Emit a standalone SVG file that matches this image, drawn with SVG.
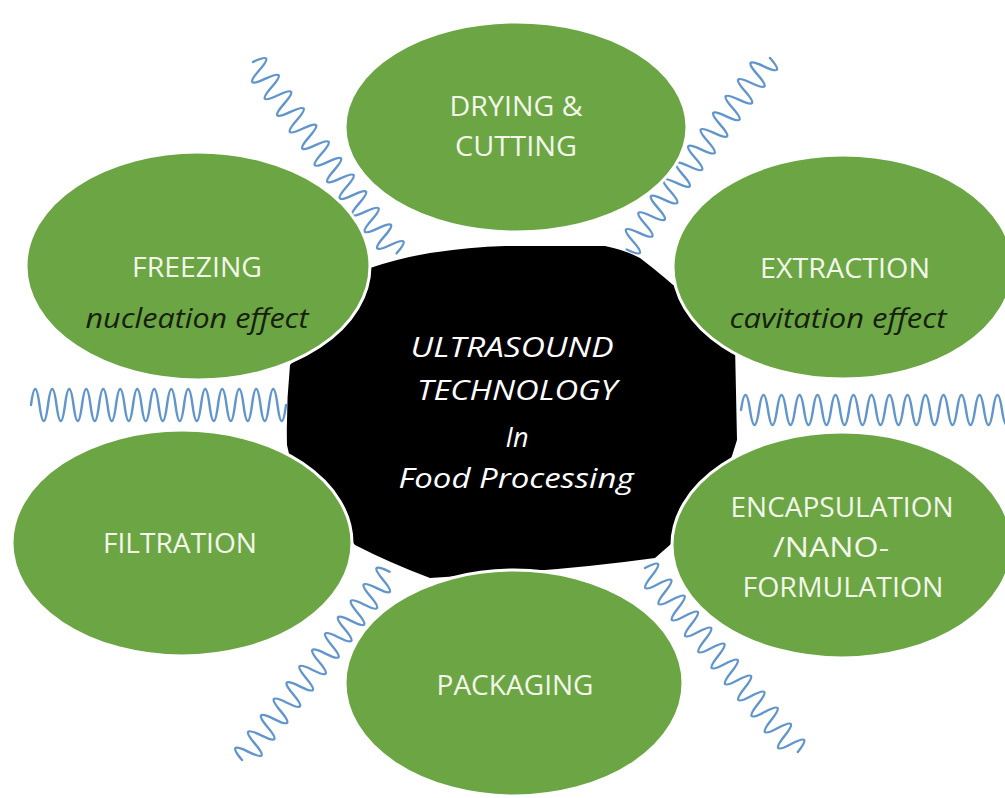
<svg xmlns="http://www.w3.org/2000/svg" width="1005" height="798" viewBox="0 0 1005 798">
<style>
.wave{fill:none;stroke:#6195cd;stroke-width:2.4;stroke-linecap:round;stroke-linejoin:round}
.node{fill:#6ca544;stroke:#ffffff;stroke-width:3}
.lbl{font-family:"Open Sans","Liberation Sans",sans-serif;font-size:28px;fill:#f2f7ea;text-anchor:middle}
.sub{font-family:"Open Sans","Liberation Sans",sans-serif;font-size:28px;font-style:italic;fill:#15200d;text-anchor:middle}
.ctr{font-family:"Open Sans","Liberation Sans",sans-serif;font-size:27px;font-style:italic;fill:#ffffff;text-anchor:middle}
</style>
<defs>
<path id="dw" d="M0 0 q5.2 -25 10.4 0 t10.4 0 t10.4 0 t10.4 0 t10.4 0 t10.4 0 t10.4 0 t10.4 0 t10.4 0 t10.4 0 t10.4 0 t10.4 0 t10.4 0 t10.4 0 t10.4 0 t10.4 0 t10.4 0 t10.4 0 t10.4 0 t10.4 0 t10.4 0 t10.4 0 t10.4 0"/>
</defs>
<rect width="1005" height="798" fill="#ffffff"/>
<g id="connectors">
<use href="#dw" class="wave" transform="translate(253,62) rotate(53.1)"/>
<use href="#dw" class="wave" transform="translate(770,58) rotate(126.8)"/>
<use href="#dw" class="wave" transform="translate(242,760) rotate(-51.9)"/>
<use href="#dw" class="wave" transform="translate(645,568) rotate(50.3)"/>
<path class="wave" d="M31 405 q4.25 -32 8.5 0 t8.5 0 t8.5 0 t8.5 0 t8.5 0 t8.5 0 t8.5 0 t8.5 0 t8.5 0 t8.5 0 t8.5 0 t8.5 0 t8.5 0 t8.5 0 t8.5 0 t8.5 0 t8.5 0 t8.5 0 t8.5 0 t8.5 0 t8.5 0 t8.5 0 t8.5 0 t8.5 0 t8.5 0 t8.5 0 t8.5 0 t8.5 0 t8.5 0 t8.5 0"/>
<path class="wave" d="M741 410 q4.5 -30 9 0 t9 0 t9 0 t9 0 t9 0 t9 0 t9 0 t9 0 t9 0 t9 0 t9 0 t9 0 t9 0 t9 0 t9 0 t9 0 t9 0 t9 0 t9 0 t9 0 t9 0 t9 0 t9 0 t9 0 t9 0 t9 0 t9 0 t9 0 t9 0 t9 0"/>
</g>
<g id="center">
<path d="M370 268 Q400 258 430 253 Q470 247 505 246 L605 246 Q625 250 640 258 Q665 277 690 300 Q715 322 735 345 L737 440 Q728 470 715 500 Q688 530 655 558 Q590 567 520 572 L430 578 Q390 563 355 545 L300 480 Q290 462 287 445 Q286 405 290 365 L330 320 Z" fill="#000000"/>
</g>
<g id="drying"><ellipse class="node" cx="516" cy="127" rx="171" ry="105"/>
<text class="lbl" x="516" y="116" textLength="133" lengthAdjust="spacingAndGlyphs">DRYING &amp;</text><text class="lbl" x="516" y="156" textLength="122" lengthAdjust="spacingAndGlyphs">CUTTING</text></g>
<g id="freezing"><ellipse class="node" cx="198" cy="266" rx="172" ry="114"/>
<text class="lbl" x="197" y="277" textLength="130" lengthAdjust="spacingAndGlyphs">FREEZING</text><text class="sub" x="197" y="328" textLength="223" lengthAdjust="spacingAndGlyphs">nucleation effect</text></g>
<g id="extraction"><ellipse class="node" cx="843" cy="267" rx="170" ry="112"/>
<text class="lbl" x="845" y="278" textLength="170" lengthAdjust="spacingAndGlyphs">EXTRACTION</text><text class="sub" x="838" y="328" textLength="217" lengthAdjust="spacingAndGlyphs">cavitation effect</text></g>
<g id="filtration"><ellipse class="node" cx="182" cy="543" rx="170" ry="113"/>
<text class="lbl" x="180" y="553" textLength="154" lengthAdjust="spacingAndGlyphs">FILTRATION</text></g>
<g id="encapsulation"><ellipse class="node" cx="842" cy="545" rx="170" ry="113"/>
<text class="lbl" x="842" y="517" textLength="223" lengthAdjust="spacingAndGlyphs">ENCAPSULATION</text><text class="lbl" x="831" y="557" textLength="116" lengthAdjust="spacingAndGlyphs">/NANO-</text><text class="lbl" x="843" y="597" textLength="201" lengthAdjust="spacingAndGlyphs">FORMULATION</text></g>
<g id="packaging"><ellipse class="node" cx="514" cy="683" rx="169" ry="113"/>
<text class="lbl" x="515" y="695" textLength="157" lengthAdjust="spacingAndGlyphs">PACKAGING</text></g>
<g id="center-text">
<text class="ctr" x="512" y="357" textLength="203" lengthAdjust="spacingAndGlyphs">ULTRASOUND</text>
<text class="ctr" x="517" y="400" textLength="200" lengthAdjust="spacingAndGlyphs">TECHNOLOGY</text>
<text class="ctr" x="517" y="447">In</text>
<text class="ctr" x="516" y="488" textLength="235" lengthAdjust="spacingAndGlyphs">Food Processing</text>
</g>
</svg>
